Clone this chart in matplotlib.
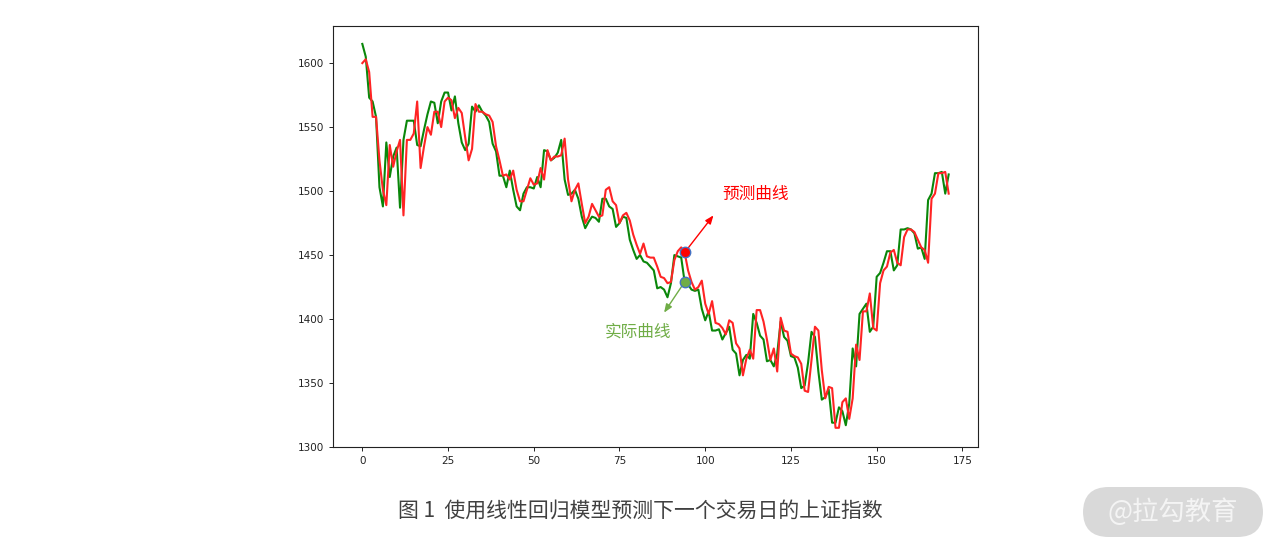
import matplotlib
matplotlib.use("Agg")
import matplotlib.pyplot as plt
from matplotlib.patches import FancyBboxPatch

# Actual index (green) and predicted index (red)
actual = [1615, 1605, 1573, 1570, 1558, 1503, 1488, 1538, 1511, 1527,
          1534, 1487, 1540, 1555, 1555, 1555, 1536, 1535, 1548, 1560,
          1570, 1569, 1553, 1570, 1577, 1577, 1563, 1574, 1553, 1538,
          1532, 1537, 1566, 1562, 1567, 1562, 1559, 1554, 1537, 1531,
          1512, 1512, 1503, 1516, 1501, 1488, 1485, 1498, 1503, 1503,
          1502, 1511, 1503, 1532, 1531, 1524, 1526, 1530, 1540, 1509,
          1497, 1498, 1501, 1494, 1480, 1471, 1476, 1480, 1479, 1476,
          1494, 1494, 1488, 1486, 1472, 1475, 1480, 1479, 1462, 1454,
          1447, 1450, 1445, 1444, 1441, 1438, 1424, 1425, 1423, 1417,
          1428, 1450, 1449, 1448, 1429, 1427, 1423, 1422, 1423, 1408,
          1399, 1406, 1391, 1391, 1392, 1384, 1389, 1394, 1376, 1373,
          1356, 1368, 1372, 1369, 1404, 1397, 1387, 1384, 1367, 1368,
          1363, 1373, 1398, 1386, 1383, 1371, 1370, 1362, 1346, 1348,
          1366, 1390, 1386, 1359, 1337, 1339, 1345, 1319, 1319, 1331,
          1328, 1317, 1334, 1377, 1363, 1404, 1408, 1412, 1390, 1394,
          1433, 1436, 1444, 1453, 1453, 1438, 1442, 1470, 1470, 1471,
          1470, 1467, 1455, 1456, 1447, 1493, 1498, 1514, 1514, 1515,
          1498, 1513]

predicted = [1600, 1603, 1593, 1558, 1558, 1524, 1501, 1489, 1536, 1519,
             1531, 1540, 1481, 1540, 1540, 1545, 1570, 1518, 1535, 1550,
             1544, 1562, 1562, 1550, 1570, 1573, 1571, 1557, 1565, 1561,
             1542, 1524, 1533, 1568, 1562, 1562, 1560, 1559, 1554, 1535,
             1524, 1512, 1513, 1509, 1516, 1501, 1492, 1492, 1501, 1510,
             1505, 1506, 1518, 1509, 1532, 1524, 1527, 1527, 1528, 1541,
             1509, 1492, 1501, 1506, 1490, 1475, 1480, 1490, 1485, 1480,
             1481, 1501, 1503, 1492, 1489, 1475, 1481, 1483, 1477, 1466,
             1458, 1451, 1459, 1449, 1448, 1448, 1441, 1433, 1432, 1428,
             1429, 1446, 1453, 1456, 1452, 1438, 1429, 1423, 1425, 1430,
             1412, 1404, 1414, 1397, 1396, 1393, 1388, 1399, 1397, 1381,
             1377, 1356, 1369, 1376, 1369, 1407, 1407, 1398, 1384, 1368,
             1377, 1359, 1401, 1391, 1390, 1373, 1371, 1370, 1365, 1344,
             1343, 1368, 1394, 1391, 1360, 1338, 1347, 1346, 1315, 1315,
             1335, 1338, 1322, 1338, 1380, 1368, 1406, 1406, 1420, 1393,
             1391, 1428, 1438, 1441, 1452, 1454, 1444, 1442, 1464, 1470,
             1470, 1468, 1462, 1456, 1454, 1444, 1494, 1498, 1514, 1514,
             1515, 1498]

highlight_idx = 94
xticks = [0, 25, 50, 75, 100, 125, 150, 175]
yticks = [1300, 1350, 1400, 1450, 1500, 1550, 1600]
label_pred = "预测曲线"
label_actual = "实际曲线"
caption = "图 1  使用线性回归模型预测下一个交易日的上证指数"
watermark = "@拉勾教育"

plt.rcParams['font.family'] = ['Noto Sans CJK SC', 'DejaVu Sans']

fig = plt.figure(figsize=(12.8, 5.54), dpi=100)
ax = fig.add_axes([333/1280, 1-447/554, (978-333)/1280, (447-26)/554])

x = list(range(len(actual)))
ax.plot(x, actual, color='#0a870a', lw=1.5)
ax.plot(x, predicted, color='#ff2424', lw=1.5)

ax.set_xlim(-8.55, 179.55)
ax.set_ylim(1300, 1629)
ax.set_xticks(xticks)
ax.set_yticks(yticks)
ax.tick_params(labelsize=7.5, length=3, width=0.7, colors='#222222')
for lab in ax.get_xticklabels() + ax.get_yticklabels():
    lab.set_fontfamily('DejaVu Sans')
for s in ax.spines.values():
    s.set_linewidth(0.8)
    s.set_color('#222222')

hx = highlight_idx
ax.plot(hx, predicted[hx], 'o', ms=7.5, mfc='#ff0000', mec='#4472c4', mew=1.0, zorder=5)
ax.plot(hx, actual[hx], 'o', ms=7.5, mfc='#70ad47', mec='#4472c4', mew=1.0, zorder=5)

ax.annotate('', xy=(102.4, 1481), xytext=(hx, predicted[hx]),
            arrowprops=dict(arrowstyle='-|>,head_length=0.5,head_width=0.2',
                            color='#ff0000', lw=1.0, shrinkA=4, shrinkB=0))
ax.annotate('', xy=(88, 1405), xytext=(hx, actual[hx]),
            arrowprops=dict(arrowstyle='-|>,head_length=0.5,head_width=0.2',
                            color='#70ad47', lw=1.0, shrinkA=4, shrinkB=0))
ax.text(114.7, 1497.6, label_pred, color='#ff0000', fontsize=12,
        ha='center', va='center')
ax.text(80.4, 1390, label_actual, color='#70ad47', fontsize=12,
        ha='center', va='center')

fig.text(640/1280, 1-512/554, caption, color='#404040', fontsize=15,
         ha='center', va='center')

box = FancyBboxPatch((1083/1280, 1-537/554), (1263-1083)/1280, 50/554,
                     boxstyle='round,pad=0,rounding_size=0.02',
                     transform=fig.transFigure, facecolor='#d9d9d9',
                     edgecolor='none', mutation_aspect=1280/554)
fig.patches.append(box)
fig.text(1173/1280, 1-512/554, watermark, color='#f4f4f4', fontsize=19,
         ha='center', va='center')

fig.savefig('out.png', dpi=100)
